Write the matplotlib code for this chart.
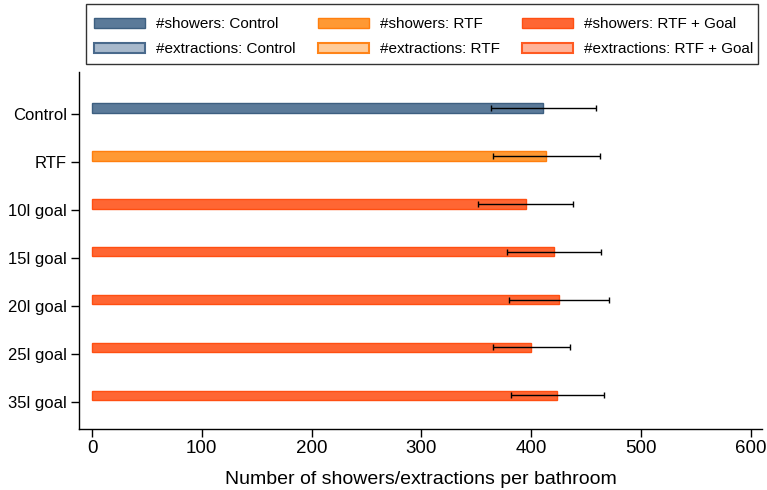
import matplotlib
matplotlib.use('Agg')
import matplotlib.pyplot as plt
from matplotlib.patches import Patch, Rectangle
import numpy as np

# Data
groups = ["Control", "RTF", "10l goal", "15l goal", "20l goal", "25l goal", "35l goal"]
showers = [411, 414, 395, 421, 425, 400, 424]
showers_err = [48, 48.5, 43, 43, 45.5, 35, 42]
group_kind = ["Control", "RTF", "Goal", "Goal", "Goal", "Goal", "Goal"]

# colours per treatment: (shower fill, shower edge, extraction fill, extraction edge)
colors = {
    "Control": ("#5b7a99", "#3d5f80", "#a8b9cc", "#4a6a8c"),
    "RTF": ("#ff9933", "#ff7f0e", "#ffcc99", "#ff8418"),
    "Goal": ("#ff6633", "#ff4f12", "#ffb399", "#ff5a22"),
}
legend_names = {"Control": "Control", "RTF": "RTF", "Goal": "RTF + Goal"}

plt.rcParams['font.family'] = ['Liberation Sans', 'DejaVu Sans']

fig = plt.figure(figsize=(7.67, 4.9), dpi=100)
ax = fig.add_axes([0.1034, 0.1239, 0.8896, 0.7298])

y = np.arange(len(groups))
bar_h = 0.2
for i, kind in enumerate(group_kind):
    fc, ec, _, _ = colors[kind]
    ax.barh(y[i] - 0.13, showers[i], height=bar_h, color=fc, edgecolor=ec, linewidth=1)
    ax.errorbar(showers[i], y[i] - 0.13, xerr=showers_err[i], fmt='none',
                ecolor='black', elinewidth=1, capsize=2, capthick=1)

ax.set_xlim(-11.6, 610)
ax.set_ylim(6.58, -0.89)
ax.set_yticks(y)
ax.set_yticklabels(groups)
ax.set_xticks([0, 100, 200, 300, 400, 500, 600])
ax.tick_params(axis='both', length=6, width=1, color='black', pad=3)
ax.tick_params(axis='y', labelsize=12)
ax.tick_params(axis='x', labelsize=13.5, pad=2)
for s in ['top', 'right']:
    ax.spines[s].set_visible(False)
for s in ['left', 'bottom']:
    ax.spines[s].set_linewidth(1)
ax.set_xlabel("Number of showers/extractions per bathroom", fontsize=14, labelpad=10)

# Legend: 3 columns (Control / RTF / RTF + Goal), showers on top, extractions below
handles = []
labels = []
for kind in ["Control", "RTF", "Goal"]:
    fc, ec, efc, eec = colors[kind]
    handles.append(Patch(facecolor=fc, edgecolor=ec, linewidth=1))
    labels.append("#showers: " + legend_names[kind])
    handles.append(Patch(facecolor=efc, edgecolor=eec, linewidth=1.5))
    labels.append("#extractions: " + legend_names[kind])

fig.legend(handles, labels, ncol=3, loc='upper left',
           bbox_to_anchor=(86 / 767, 1 - 9 / 490),
           fontsize=11, handlelength=3.3, handleheight=0.65,
           handletextpad=0.72, columnspacing=1.5, labelspacing=0.7,
           borderpad=0.55, borderaxespad=0, frameon=False)
# legend box drawn separately so its height can differ from its padding
fig.add_artist(Rectangle((86 / 767, 1 - 64 / 490), 672 / 767, 60 / 490,
                         transform=fig.transFigure, fill=False,
                         edgecolor='#333333', linewidth=1))

plt.savefig('out.png', dpi=100)
plt.close()
